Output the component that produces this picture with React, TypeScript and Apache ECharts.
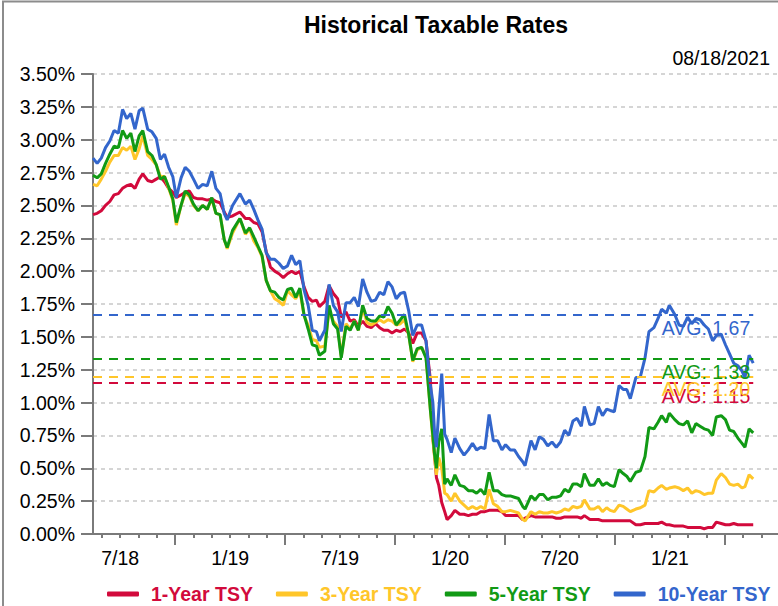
import React, { useEffect, useRef } from 'react';
import * as echarts from 'echarts';

const dates = [
  '2018-08-17','2018-08-24','2018-08-31','2018-09-07','2018-09-14','2018-09-21','2018-09-28','2018-10-05','2018-10-12','2018-10-19','2018-10-26',
  '2018-11-02','2018-11-08','2018-11-16','2018-11-23','2018-11-30','2018-12-07','2018-12-14','2018-12-21','2018-12-28',
  '2019-01-03','2019-01-11','2019-01-18','2019-01-25','2019-02-01','2019-02-08','2019-02-15','2019-02-22','2019-03-01','2019-03-08','2019-03-15','2019-03-22','2019-03-27',
  '2019-04-05','2019-04-17','2019-04-26','2019-05-03','2019-05-10','2019-05-17','2019-05-24','2019-05-31','2019-06-07','2019-06-14','2019-06-21','2019-06-28',
  '2019-07-05','2019-07-12','2019-07-19','2019-07-26','2019-08-02','2019-08-09','2019-08-16','2019-08-23','2019-08-28','2019-09-06','2019-09-13','2019-09-20','2019-09-27',
  '2019-10-03','2019-10-11','2019-10-18','2019-10-25','2019-11-01','2019-11-08','2019-11-15','2019-11-22','2019-11-29','2019-12-06','2019-12-13','2019-12-20','2019-12-27',
  '2020-01-03','2020-01-10','2020-01-17','2020-01-24','2020-01-31','2020-02-07','2020-02-14','2020-02-21','2020-02-28','2020-03-03','2020-03-06','2020-03-09','2020-03-13',
  '2020-03-18','2020-03-23','2020-03-27','2020-04-03','2020-04-09','2020-04-17','2020-04-24','2020-05-01','2020-05-08','2020-05-15','2020-05-22','2020-05-29',
  '2020-06-05','2020-06-12','2020-06-19','2020-06-26','2020-07-02','2020-07-10','2020-07-17','2020-07-24','2020-07-31','2020-08-04','2020-08-14','2020-08-21','2020-08-28',
  '2020-09-04','2020-09-11','2020-09-18','2020-09-25','2020-10-02','2020-10-09','2020-10-16','2020-10-23','2020-10-30','2020-11-06','2020-11-11','2020-11-20','2020-11-27',
  '2020-12-04','2020-12-11','2020-12-18','2020-12-24','2020-12-31','2021-01-08','2021-01-15','2021-01-21','2021-01-27','2021-02-05','2021-02-12','2021-02-19','2021-02-25',
  '2021-03-05','2021-03-12','2021-03-18','2021-03-26','2021-03-31','2021-04-09','2021-04-16','2021-04-23','2021-04-30','2021-05-07','2021-05-14','2021-05-21','2021-05-28',
  '2021-06-04','2021-06-11','2021-06-17','2021-06-25','2021-07-02','2021-07-09','2021-07-16','2021-07-23','2021-07-30','2021-08-04','2021-08-11','2021-08-18',
];

const oneYear = [
  2.43,2.44,2.46,2.50,2.53,2.58,2.59,2.63,2.65,2.66,2.63,
  2.70,2.74,2.69,2.68,2.70,2.72,2.68,2.63,2.60,
  2.56,2.58,2.60,2.61,2.56,2.55,2.55,2.54,2.55,2.53,2.52,2.45,2.41,
  2.42,2.45,2.40,2.40,2.37,2.36,2.30,2.15,2.03,2.00,1.98,1.95,
  1.98,2.00,1.98,2.00,1.88,1.80,1.77,1.78,1.73,1.77,1.89,1.83,1.79,
  1.65,1.69,1.62,1.63,1.58,1.62,1.58,1.57,1.60,1.57,1.55,1.55,1.53,
  1.55,1.54,1.56,1.53,1.45,1.53,1.53,1.47,1.17,0.73,0.59,0.43,0.37,
  0.24,0.17,0.11,0.14,0.18,0.15,0.15,0.14,0.15,0.15,0.17,0.17,
  0.18,0.18,0.18,0.17,0.14,0.14,0.14,0.14,0.11,0.12,0.14,0.13,0.13,
  0.13,0.13,0.13,0.12,0.12,0.13,0.13,0.13,0.13,0.12,0.14,0.11,0.11,
  0.11,0.10,0.10,0.10,0.10,0.10,0.10,0.10,0.10,0.07,0.07,0.08,0.08,
  0.08,0.08,0.09,0.07,0.07,0.06,0.06,0.06,0.05,0.05,0.05,0.05,0.04,
  0.05,0.05,0.09,0.08,0.07,0.07,0.08,0.07,0.07,0.07,0.07,0.07,
];

const threeYear = [
  2.66,2.65,2.70,2.76,2.83,2.88,2.88,2.94,2.92,2.95,2.85,
  2.93,3.03,2.88,2.85,2.81,2.72,2.72,2.63,2.54,
  2.35,2.50,2.59,2.57,2.50,2.46,2.50,2.47,2.55,2.44,2.43,2.24,2.17,
  2.29,2.40,2.28,2.32,2.23,2.18,2.11,1.93,1.85,1.79,1.77,1.74,
  1.85,1.82,1.79,1.85,1.66,1.59,1.48,1.47,1.42,1.43,1.70,1.62,1.58,
  1.35,1.60,1.56,1.62,1.55,1.72,1.61,1.59,1.61,1.63,1.61,1.63,1.62,
  1.59,1.60,1.63,1.52,1.31,1.40,1.42,1.35,0.94,0.72,0.58,0.45,0.58,
  0.50,0.31,0.30,0.25,0.31,0.25,0.22,0.19,0.21,0.19,0.21,0.19,
  0.34,0.23,0.21,0.17,0.17,0.18,0.17,0.16,0.11,0.10,0.17,0.15,0.17,
  0.16,0.16,0.17,0.16,0.17,0.19,0.18,0.21,0.20,0.21,0.26,0.19,0.19,
  0.21,0.17,0.20,0.18,0.17,0.22,0.21,0.19,0.17,0.19,0.20,0.22,0.33,
  0.32,0.35,0.37,0.34,0.35,0.36,0.35,0.33,0.35,0.31,0.33,0.32,0.30,
  0.31,0.31,0.41,0.46,0.43,0.38,0.37,0.38,0.35,0.36,0.45,0.42,
];

const fiveYear = [
  2.73,2.71,2.74,2.82,2.89,2.95,2.94,3.07,3.01,3.05,2.91,
  3.03,3.07,2.91,2.88,2.81,2.70,2.72,2.64,2.55,
  2.37,2.50,2.61,2.58,2.51,2.46,2.50,2.47,2.56,2.44,2.43,2.24,2.18,
  2.31,2.40,2.29,2.33,2.26,2.19,2.12,1.93,1.85,1.84,1.80,1.78,
  1.86,1.87,1.80,1.87,1.67,1.56,1.44,1.43,1.36,1.39,1.74,1.60,1.56,
  1.34,1.58,1.55,1.62,1.55,1.74,1.64,1.62,1.62,1.66,1.65,1.73,1.68,
  1.59,1.63,1.67,1.52,1.32,1.41,1.42,1.34,0.94,0.75,0.60,0.50,0.70,
  0.80,0.38,0.42,0.37,0.45,0.37,0.36,0.33,0.33,0.31,0.34,0.30,
  0.47,0.33,0.33,0.30,0.29,0.29,0.28,0.27,0.21,0.19,0.29,0.26,0.30,
  0.30,0.26,0.28,0.28,0.29,0.34,0.32,0.38,0.38,0.36,0.46,0.37,0.37,
  0.42,0.37,0.39,0.37,0.36,0.49,0.46,0.44,0.40,0.47,0.48,0.59,0.81,
  0.80,0.85,0.90,0.85,0.92,0.87,0.84,0.83,0.86,0.77,0.84,0.82,0.80,
  0.79,0.75,0.89,0.90,0.87,0.79,0.78,0.73,0.69,0.66,0.80,0.77,
];

const tenYear = [
  2.86,2.82,2.86,2.94,2.99,3.07,3.05,3.23,3.16,3.20,3.08,
  3.22,3.24,3.08,3.06,3.01,2.85,2.89,2.79,2.72,
  2.56,2.71,2.79,2.76,2.70,2.63,2.66,2.65,2.76,2.63,2.59,2.44,2.39,
  2.50,2.59,2.51,2.54,2.47,2.39,2.32,2.14,2.09,2.09,2.06,2.02,
  2.04,2.12,2.05,2.08,1.86,1.74,1.55,1.54,1.47,1.55,1.90,1.74,1.69,
  1.54,1.76,1.76,1.80,1.73,1.94,1.84,1.77,1.78,1.84,1.82,1.92,1.88,
  1.79,1.83,1.84,1.70,1.51,1.59,1.59,1.47,1.13,1.00,0.76,0.66,0.94,
  1.22,0.76,0.72,0.62,0.73,0.65,0.60,0.64,0.69,0.64,0.66,0.65,
  0.91,0.71,0.71,0.64,0.68,0.64,0.64,0.59,0.55,0.52,0.71,0.64,0.74,
  0.72,0.67,0.70,0.66,0.70,0.79,0.75,0.86,0.88,0.82,0.97,0.83,0.84,
  0.97,0.90,0.95,0.94,0.93,1.13,1.10,1.10,1.03,1.19,1.20,1.34,1.54,
  1.57,1.64,1.71,1.68,1.74,1.67,1.59,1.58,1.65,1.60,1.64,1.63,1.59,
  1.56,1.47,1.51,1.52,1.44,1.37,1.30,1.28,1.24,1.19,1.36,1.30,
];

const seriesNames = ['1-Year TSY', '3-Year TSY', '5-Year TSY', '10-Year TSY'];
const averages = [1.15, 1.20, 1.33, 1.67];
const xTickLabels = ['7/18', '1/19', '7/19', '1/20', '7/20', '1/21'];
const titleText = 'Historical Taxable Rates';
const asOfDate = '08/18/2021';

const colors = ['#d20a3c', '#ffc62a', '#119a15', '#3366cc'];
const FONT = "'Liberation Sans', Arial, sans-serif";

// months since 2018-07-01
function toMonths(d: string): number {
  const [y, m, day] = d.split('-').map(Number);
  const dim = new Date(y, m, 0).getDate();
  return (y - 2018) * 12 + (m - 7) + (day - 1) / dim;
}

export default function App() {
  const ref = useRef<HTMLDivElement>(null);

  useEffect(() => {
    document.body.style.margin = '0';
    if (!ref.current) return;
    const chart = echarts.init(ref.current, undefined, { renderer: 'svg' });

    const xs = dates.map(toMonths);
    const xMin = xs[0];
    const xEnd = xs[xs.length - 1];
    const xMax = 38.9;
    const allSeries = [oneYear, threeYear, fiveYear, tenYear];

    const labelPositions = xTickLabels.map((_, i) => 3 + 6 * i);
    const majorTicks = [6, 12, 18, 24, 30, 36];
    const minorTicks: number[] = [];
    for (let m = 2; m <= 38; m++) if (m % 6 !== 0) minorTicks.push(m);

    const series = allSeries.map((vals, i) => ({
      name: seriesNames[i],
      type: 'line',
      showSymbol: false,
      symbol: 'none',
      color: colors[i],
      lineStyle: { width: 3, color: colors[i] },
      data: vals.map((v, j) => [xs[j], v]),
      markLine: {
        silent: true,
        symbol: 'none',
        lineStyle: { type: [9, 7], width: 2, color: colors[i] },
        label: {
          show: true,
          position: 'insideEndBottom',
          distance: 3,
          formatter: 'AVG: ' + averages[i].toFixed(2),
          color: colors[i],
          fontSize: 19.5,
          fontFamily: FONT,
        },
        data: [[{ coord: [xMin, averages[i]] }, { coord: [xEnd, averages[i]] }]],
      },
    }));

    chart.setOption({
      animation: false,
      backgroundColor: '#fff',
      textStyle: { fontFamily: FONT },
      grid: { left: 93, right: 0, top: 74, bottom: 72, containLabel: false },
      legend: {
        top: 579,
        left: 102,
        itemWidth: 32,
        itemHeight: 5,
        itemGap: 23,
        icon: 'roundRect',
        selectedMode: false,
        textStyle: { fontSize: 19.5, fontWeight: 'bold', fontFamily: FONT, padding: [0, 0, 0, 7] },
        data: seriesNames.map((n, i) => ({ name: n, textStyle: { color: colors[i] } })),
      },
      xAxis: [
        {
          type: 'value',
          min: xMin,
          max: xMax,
          axisLine: { show: true, lineStyle: { color: '#7a7a7a', width: 2 } },
          axisTick: { show: true, customValues: majorTicks, length: 11, lineStyle: { color: '#7a7a7a', width: 2 } },
          axisLabel: {
            show: true,
            customValues: labelPositions,
            margin: 14,
            fontSize: 19.5,
            color: '#000',
            fontFamily: FONT,
            formatter: (v: number) => {
              const i = Math.round((v - 3) / 6);
              return xTickLabels[i] ?? '';
            },
          },
          splitLine: { show: false },
        },
        {
          type: 'value',
          min: xMin,
          max: xMax,
          position: 'bottom',
          axisLine: { show: false },
          axisTick: { show: true, customValues: minorTicks, length: 4, lineStyle: { color: '#7a7a7a', width: 2 } },
          axisLabel: { show: false },
          splitLine: { show: false },
        },
      ],
      yAxis: {
        type: 'value',
        min: 0,
        max: 3.5,
        interval: 0.25,
        axisLine: { show: true, lineStyle: { color: '#7a7a7a', width: 2 } },
        axisTick: { show: true, length: 12, lineStyle: { color: '#7a7a7a', width: 2 } },
        axisLabel: {
          margin: 18,
          fontSize: 19.5,
          color: '#000',
          fontFamily: FONT,
          formatter: (v: number) => v.toFixed(2) + '%',
        },
        splitLine: { show: true, lineStyle: { type: [4, 4], color: '#c8c8c8', width: 1.5 } },
      },
      graphic: [
        {
          type: 'text',
          x: 436,
          y: 25,
          style: { text: titleText, fontSize: 23, fontWeight: 'bold', fontFamily: FONT, fill: '#000', align: 'center', verticalAlign: 'middle' },
        },
        {
          type: 'text',
          x: 770,
          y: 58,
          style: { text: asOfDate, fontSize: 19.5, fontFamily: FONT, fill: '#000', align: 'right', verticalAlign: 'middle' },
        },
        { type: 'line', shape: { x1: 3, y1: 1, x2: 3, y2: 606 }, style: { stroke: '#8c8c8c', lineWidth: 2 } },
        { type: 'line', shape: { x1: 2, y1: 1.5, x2: 778, y2: 1.5 }, style: { stroke: '#8c8c8c', lineWidth: 2 } },
      ],
      series,
    });

    return () => chart.dispose();
  }, []);

  return <div ref={ref} style={{ width: 778, height: 606 }} />;
}
